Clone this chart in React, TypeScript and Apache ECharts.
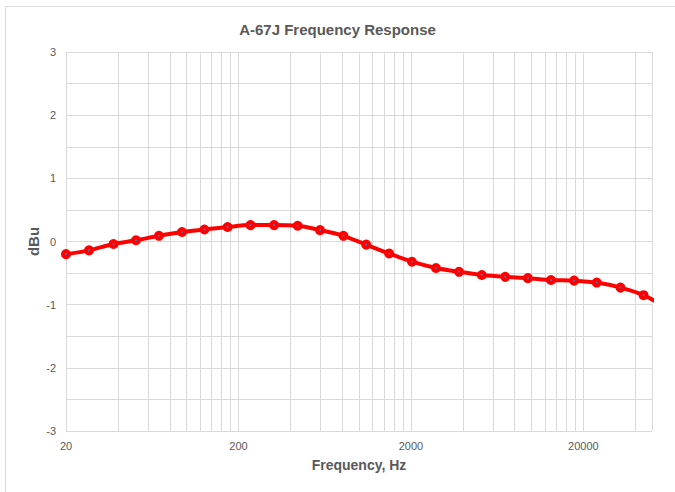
import React, { useEffect, useRef } from 'react';
import * as echarts from 'echarts';

const frequencies = [20, 27.2, 37.7, 50.9, 69.2, 94.1, 127, 173, 235, 322, 441, 594, 812, 1100, 1496, 2028, 2794, 3802, 5152, 7045, 9531, 12974, 17665, 23900, 32830, 44650, 60800];
// Response (dBu)
const responseDbu = [-0.2, -0.14, -0.04, 0.02, 0.09, 0.15, 0.19, 0.23, 0.26, 0.26, 0.25, 0.18, 0.09, -0.05, -0.19, -0.32, -0.42, -0.48, -0.53, -0.56, -0.58, -0.61, -0.62, -0.65, -0.73, -0.85, -1.05];
// Tick labels
const xTickLabels = [20, 200, 2000, 20000];
const yTickLabels = [-3, -2, -1, 0, 1, 2, 3];
const xMin = 20;
const xMax = 50000;

export default function App() {
  const ref = useRef<HTMLDivElement>(null);
  useEffect(() => {
    if (!ref.current) return;
    const chart = echarts.init(ref.current, undefined, { renderer: 'svg' });
    const gridFreqs: number[] = [];
    for (const base of xTickLabels) {
      for (let k = 1; k <= 10; k++) {
        const f = base * k;
        if (f <= xMax) gridFreqs.push(f);
      }
    }
    gridFreqs.push(xMax);
    const font = '"Liberation Sans", Arial, sans-serif';
    const option: any = {
      animation: false,
      backgroundColor: '#FFFFFF',
      title: {
        text: 'A-67J Frequency Response',
        left: 'center',
        top: 17,
        textStyle: { fontFamily: font, fontSize: 15, fontWeight: 'bold', color: '#595959' },
      },
      graphic: [
        {
          type: 'rect',
          shape: { x: 5.5, y: 6.5, width: 720, height: 520 },
          style: { fill: 'none', stroke: '#D9D9D9', lineWidth: 1 },
          silent: true,
          z: -1,
        },
      ],
      grid: { left: 66, top: 52, width: 586, height: 379, containLabel: false },
      xAxis: {
        type: 'value',
        min: Math.log10(xMin),
        max: Math.log10(xMax),
        name: 'Frequency, Hz',
        nameLocation: 'middle',
        nameGap: 27,
        nameMoveOverlap: false,
        nameTextStyle: { fontFamily: font, fontSize: 14, fontWeight: 'bold', color: '#595959', verticalAlign: 'top' },
        axisLine: { show: false },
        axisTick: { show: false, customValues: gridFreqs.map((f) => Math.log10(f)) },
        axisLabel: {
          customValues: xTickLabels.map((f) => Math.log10(f)),
          formatter: (v: number) => String(Math.round(Math.pow(10, v))),
          fontFamily: font,
          fontSize: 11,
          color: '#595959',
          margin: 9,
        },
        splitLine: { show: true, lineStyle: { color: '#D9D9D9', width: 1 } },
      },
      yAxis: {
        type: 'value',
        min: -3,
        max: 3,
        interval: 0.5,
        name: 'dBu',
        nameLocation: 'middle',
        nameGap: 25,
        nameMoveOverlap: false,
        nameTextStyle: { fontFamily: font, fontSize: 15, fontWeight: 'bold', color: '#595959' },
        axisLine: { show: false },
        axisTick: { show: false },
        axisLabel: {
          formatter: (v: number) => (yTickLabels.indexOf(v) >= 0 ? String(v) : ''),
          fontFamily: font,
          fontSize: 11,
          color: '#595959',
          margin: 10,
        },
        splitLine: { show: true, lineStyle: { color: '#D9D9D9', width: 1 } },
      },
      series: [
        {
          type: 'line',
          data: frequencies.map((f, i) => [Math.log10(f), responseDbu[i]]),
          smooth: 0.3,
          clip: true,
          symbol: 'circle',
          symbolSize: 6,
          lineStyle: { color: '#FF0000', width: 4 },
          itemStyle: { color: '#4472C4', borderColor: '#FF0000', borderWidth: 4 },
        },
      ],
    };
    chart.setOption(option);
    return () => chart.dispose();
  }, []);
  return (
    <div
      ref={ref}
      style={{ position: 'fixed', left: 0, top: 0, width: 675, height: 492, background: '#fff' }}
    />
  );
}
